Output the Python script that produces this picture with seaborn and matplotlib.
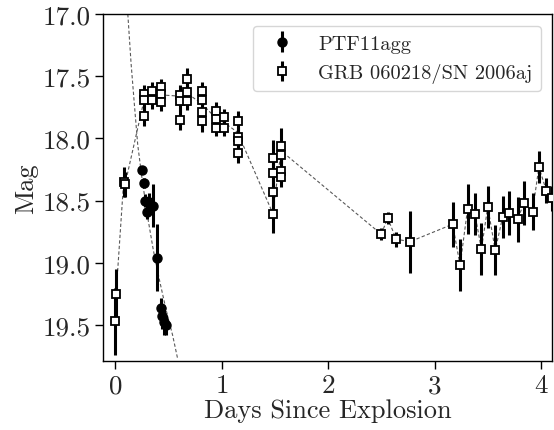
import matplotlib
matplotlib.use("Agg")
import matplotlib.pyplot as plt
import seaborn as sns
import pandas as pd

# PTF11agg
ptf_days = [0.25, 0.27, 0.28, 0.30, 0.32, 0.36, 0.39, 0.43, 0.44, 0.46, 0.48]
ptf_mag = [18.25, 18.36, 18.50, 18.59, 18.51, 18.54, 18.96, 19.36, 19.43, 19.48, 19.50]
ptf_err = [0.03, 0.04, 0.05, 0.06, 0.07, 0.17, 0.27, 0.08, 0.10, 0.10, 0.08]

# PTF11agg model curve
ptf_fit_days = [0.12, 0.15, 0.18, 0.213, 0.25, 0.30, 0.36, 0.42, 0.48, 0.54, 0.59]
ptf_fit_mag = [17.0, 17.39, 17.71, 18.05, 18.30, 18.60, 18.90, 19.15, 19.38, 19.58, 19.78]

# GRB 060218 / SN 2006aj
grb_days = [0.00, 0.01, 0.08, 0.094,
            0.27, 0.27, 0.27, 0.35, 0.35, 0.43, 0.43, 0.43,
            0.61, 0.61, 0.61, 0.68, 0.68, 0.68,
            0.815, 0.815, 0.815, 0.815, 0.95, 0.95, 0.95, 1.02, 1.02,
            1.15, 1.15, 1.15, 1.15, 1.48, 1.48, 1.48, 1.48,
            1.56, 1.56, 1.56, 1.56,
            2.50, 2.56, 2.64, 2.77, 3.17, 3.24, 3.31, 3.38, 3.44, 3.50,
            3.57, 3.64, 3.70, 3.78, 3.84, 3.92, 3.98, 4.05, 4.10]
grb_mag = [19.47, 19.25, 18.35, 18.37,
           17.64, 17.69, 17.82, 17.62, 17.69, 17.59, 17.64, 17.71,
           17.65, 17.70, 17.85, 17.52, 17.63, 17.70,
           17.62, 17.69, 17.79, 17.86, 17.78, 17.84, 17.92, 17.83, 17.92,
           17.86, 17.99, 18.02, 18.12, 18.16, 18.28, 18.43, 18.61,
           18.06, 18.13, 18.26, 18.31,
           18.77, 18.64, 18.81, 18.83, 18.69, 19.02, 18.57, 18.61, 18.89, 18.55,
           18.90, 18.63, 18.60, 18.65, 18.52, 18.59, 18.23, 18.42, 18.48]
grb_err = [0.27, 0.20, 0.12, 0.10,
           0.07, 0.06, 0.08, 0.07, 0.07, 0.07, 0.06, 0.07,
           0.08, 0.08, 0.08, 0.09, 0.08, 0.07,
           0.07, 0.07, 0.08, 0.09, 0.07, 0.07, 0.06, 0.07, 0.06,
           0.08, 0.08, 0.08, 0.08, 0.15, 0.12, 0.12, 0.15,
           0.14, 0.10, 0.10, 0.08,
           0.05, 0.05, 0.06, 0.25, 0.18, 0.21, 0.20, 0.17, 0.21, 0.17,
           0.20, 0.17, 0.18, 0.18, 0.18, 0.15, 0.13, 0.10, 0.10]

# GRB guide line (dashed)
grb_line_days = [0.0, 0.01, 0.08, 0.094, 0.27, 0.35, 0.43, 0.61, 0.68, 0.815, 0.95,
                 1.02, 1.15, 1.48, 1.56, 2.50, 2.56, 2.64, 2.77, 3.17, 3.24, 3.31,
                 3.38, 3.44, 3.50, 3.57, 3.64, 3.70, 3.78, 3.84, 3.92, 3.98, 4.05, 4.10]
grb_line_mag = [19.47, 19.25, 18.36, 18.37, 17.70, 17.65, 17.65, 17.66, 17.64, 17.72, 17.84,
                17.87, 17.95, 18.60, 18.10, 18.77, 18.64, 18.81, 18.83, 18.69, 19.02, 18.57,
                18.61, 18.89, 18.55, 18.90, 18.63, 18.60, 18.65, 18.52, 18.59, 18.23, 18.42, 18.48]

sns.set_style("ticks")
plt.rcParams["font.family"] = ["cmr10"]
plt.rcParams["mathtext.fontset"] = "cm"
plt.rcParams["axes.formatter.use_mathtext"] = True
plt.rcParams["axes.unicode_minus"] = False

fig = plt.figure(figsize=(5.54, 4.31), dpi=100)
ax = fig.add_axes([0.1865, 0.160, 0.8093, 0.805])

fit_df = pd.DataFrame({"d": ptf_fit_days, "m": ptf_fit_mag})
line_df = pd.DataFrame({"d": grb_line_days, "m": grb_line_mag})
sns.lineplot(data=fit_df, x="d", y="m", ax=ax, color="0.35", lw=0.8,
             linestyle=(0, (3, 2)), sort=False, legend=False)
sns.lineplot(data=line_df, x="d", y="m", ax=ax, color="0.35", lw=0.8,
             linestyle=(0, (3, 2)), sort=False, legend=False)

ax.errorbar(ptf_days, ptf_mag, yerr=ptf_err, fmt="o", color="black",
            ms=6.5, elinewidth=2.2, capsize=0, label="PTF11agg", zorder=3)
ax.errorbar(grb_days, grb_mag, yerr=grb_err, fmt="s", color="black",
            mfc="white", mec="black", mew=1.3, ms=5.5, elinewidth=2.2,
            capsize=0, label="GRB 060218/SN 2006aj", zorder=4)

ax.set_xlim(-0.11, 4.1)
ax.set_ylim(19.79, 17.0)
ax.set_xticks([0, 1, 2, 3, 4])
ax.set_yticks([17.0, 17.5, 18.0, 18.5, 19.0, 19.5])
ax.set_yticklabels(["17.0", "17.5", "18.0", "18.5", "19.0", "19.5"])
ax.tick_params(labelsize=19.5, length=6, width=1, direction="out", color="black", pad=3)
for s in ax.spines.values():
    s.set_color("black")
    s.set_linewidth(1.0)
ax.set_xlabel("Days Since Explosion", fontsize=19, labelpad=1)
ax.set_ylabel("Mag", fontsize=19, labelpad=3)

leg = ax.legend(loc="upper right", bbox_to_anchor=(0.976, 0.965), fontsize=14.7,
                frameon=True, fancybox=True, framealpha=0.8, edgecolor="0.8",
                borderpad=0.4, handletextpad=0.8, borderaxespad=0.0)

fig.savefig("out.png", dpi=100)
